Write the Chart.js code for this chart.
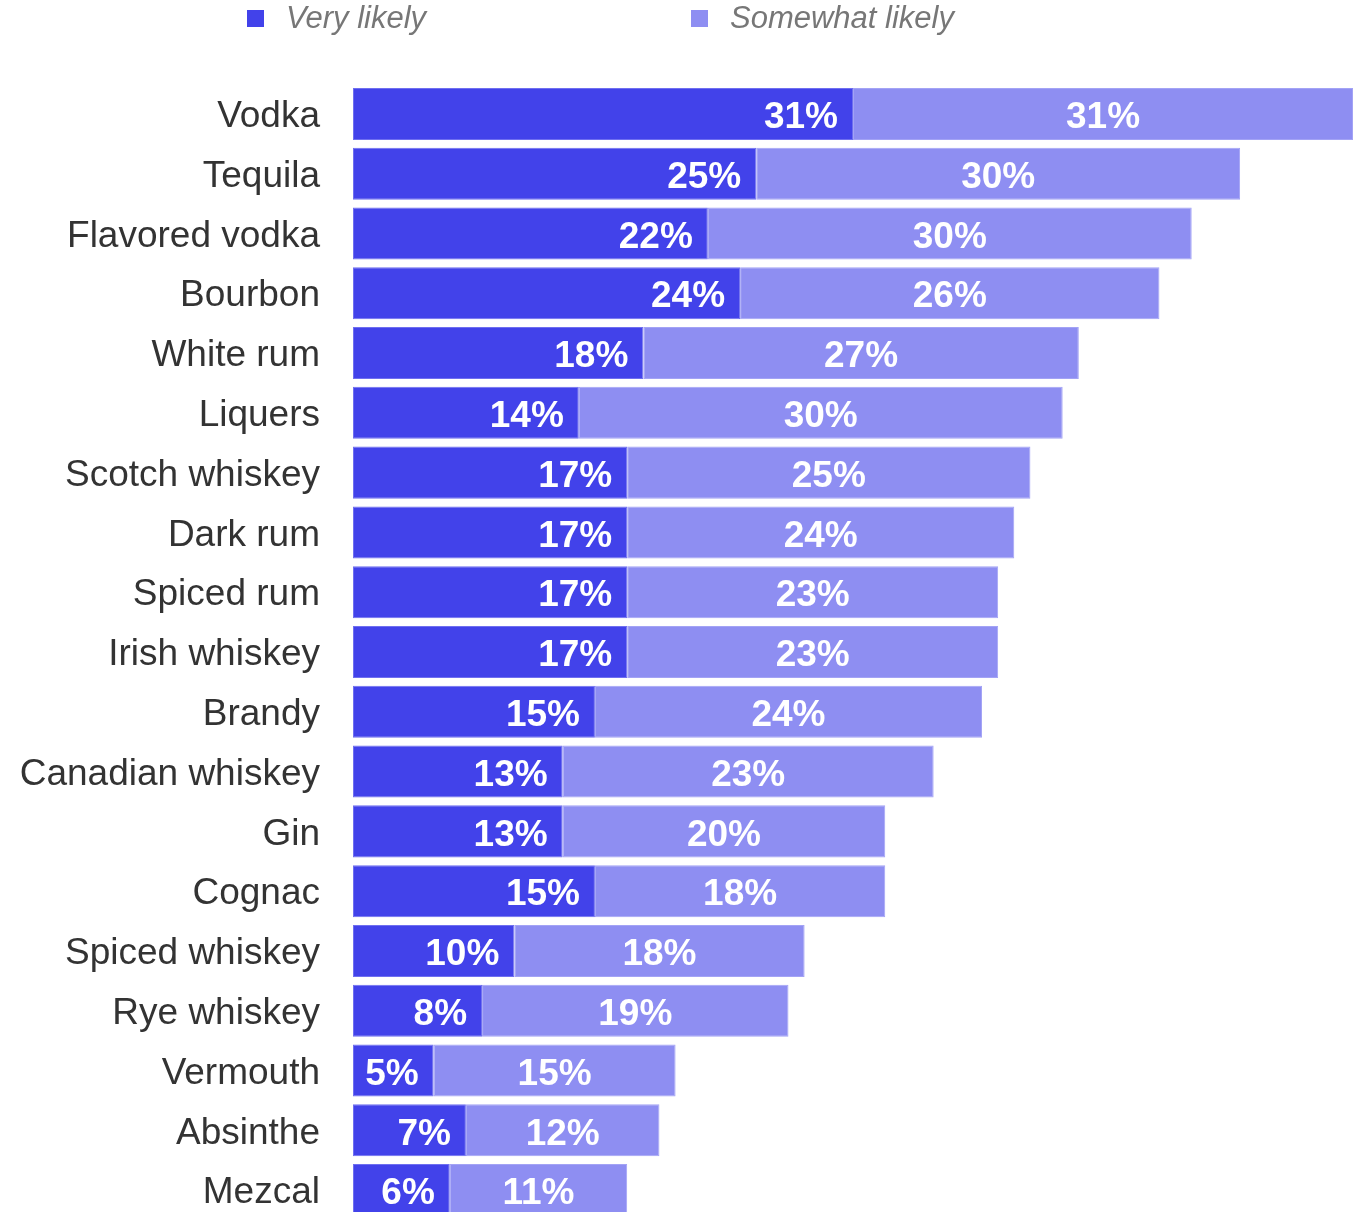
<!DOCTYPE html>
<html>
<head>
<meta charset="utf-8">
<script src="https://cdn.jsdelivr.net/npm/chart.js@4.4.1/dist/chart.umd.min.js"></script>
<style>
  html, body { margin: 0; padding: 0; background: #fff; overflow: hidden; }
  #wrap { position: relative; width: 1353px; height: 1212px; overflow: hidden; }
  #chart-box { position: absolute; left: 0; top: 0; width: 1353px; height: 1224px; }
  .legend-item { position: absolute; top: 1px; height: 34px; display: flex; align-items: center;
    font-family: 'Liberation Sans', Arial, sans-serif; font-style: italic; font-size: 31px; color: #777; }
  .legend-item .sw { width: 17px; height: 17px; margin-right: 22px; }
</style>
</head>
<body>
<div id="wrap">
  <div id="chart-box"><canvas id="drinks"></canvas></div>
  <div class="legend-item" style="left:247px"><span class="sw" style="background:#4242ea"></span>Very likely</div>
  <div class="legend-item" style="left:691px"><span class="sw" style="background:#8e8ef2"></span>Somewhat likely</div>
</div>
<script>
/* ─── Data ─── */
const categories = [
  'Vodka', 'Tequila', 'Flavored vodka', 'Bourbon', 'White rum', 'Liquers',
  'Scotch whiskey', 'Dark rum', 'Spiced rum', 'Irish whiskey', 'Brandy',
  'Canadian whiskey', 'Gin', 'Cognac', 'Spiced whiskey', 'Rye whiskey',
  'Vermouth', 'Absinthe', 'Mezcal'
];
const veryLikely     = [31, 25, 22, 24, 18, 14, 17, 17, 17, 17, 15, 13, 13, 15, 10, 8, 5, 7, 6];
const somewhatLikely = [31, 30, 30, 26, 27, 30, 25, 24, 23, 23, 24, 23, 20, 18, 18, 19, 15, 12, 11];

const VERY_COLOR = '#4242ea';
const SOME_COLOR = '#8e8ef2';
const FONT = "'Liberation Sans', Arial, sans-serif";

/* ─── Bar value labels ─── */
const barLabels = {
  id: 'barLabels',
  afterDatasetsDraw(chart) {
    const ctx = chart.ctx;
    ctx.save();
    ctx.font = 'bold 37px ' + FONT;
    ctx.fillStyle = '#ffffff';
    ctx.textBaseline = 'middle';
    chart.data.datasets.forEach((ds, di) => {
      const meta = chart.getDatasetMeta(di);
      meta.data.forEach((bar, i) => {
        const txt = ds.data[i] + '%';
        if (di === 0) {
          ctx.textAlign = 'right';
          ctx.fillText(txt, bar.x - 15, bar.y + 4);
        } else {
          ctx.textAlign = 'center';
          ctx.fillText(txt, (bar.x + bar.base) / 2, bar.y + 4);
        }
      });
    });
    ctx.restore();
  }
};

new Chart(document.getElementById('drinks'), {
  type: 'bar',
  data: {
    labels: categories,
    datasets: [
      { label: 'Very likely', data: veryLikely, backgroundColor: VERY_COLOR,
        borderColor: '#6f6ff0', borderWidth: 1, borderSkipped: false },
      { label: 'Somewhat likely', data: somewhatLikely, backgroundColor: SOME_COLOR,
        borderColor: '#a3a3f5', borderWidth: 1, borderSkipped: false },
    ],
  },
  options: {
    indexAxis: 'y',
    responsive: true,
    maintainAspectRatio: false,
    animation: false,
    layout: { padding: { top: 84, bottom: 4, left: 0, right: 0 } },
    datasets: { bar: { categoryPercentage: 1, barPercentage: 0.87 } },
    plugins: {
      legend: { display: false },
      tooltip: { enabled: false },
    },
    scales: {
      x: {
        stacked: true,
        min: 0,
        max: 62,
        display: false,
      },
      y: {
        stacked: true,
        grid: { display: false, drawTicks: false },
        border: { display: false },
        ticks: {
          color: '#333',
          padding: 33,
          labelOffset: 3,
          font: { family: FONT, size: 37 },
        },
        afterFit(scale) {
          scale.width = 353;
          scale.paddingTop = 0;
          scale.paddingBottom = 0;
        },
      },
    },
  },
  plugins: [barLabels],
});
</script>
</body>
</html>
